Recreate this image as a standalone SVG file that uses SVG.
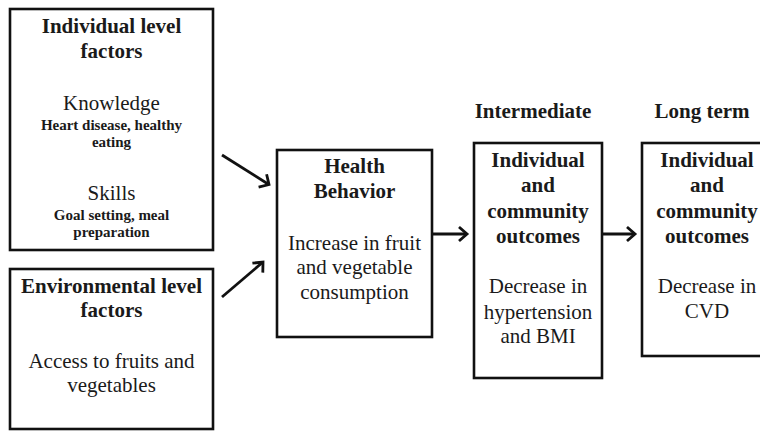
<svg xmlns="http://www.w3.org/2000/svg" width="760" height="431" viewBox="0 0 760 431">
<style>
.box{fill:#fff;stroke:#111;stroke-width:2.6}
.c{stroke:#111;stroke-width:2.8;fill:none}
.ah{stroke:#111;stroke-width:2.8;fill:none;stroke-linejoin:miter}
</style>
<rect width="760" height="431" fill="#fff"/>
<g id="individual" text-anchor="middle" fill="#1a1a1a">
<rect class="box" x="10" y="9" width="203" height="241"/>
<text font-family="'Liberation Serif', serif" font-weight="bold" font-size="21" x="111.5" y="33">Individual level</text>
<text font-family="'Liberation Serif', serif" font-weight="bold" font-size="21" x="111.5" y="58">factors</text>
<text font-family="'Liberation Serif', serif" font-size="21" x="111.5" y="110">Knowledge</text>
<text font-family="'Liberation Serif', serif" font-weight="bold" font-size="15" x="111.5" y="130">Heart disease, healthy</text>
<text font-family="'Liberation Serif', serif" font-weight="bold" font-size="15" x="111.5" y="147">eating</text>
<text font-family="'Liberation Serif', serif" font-size="21" x="111.5" y="200">Skills</text>
<text font-family="'Liberation Serif', serif" font-weight="bold" font-size="15" x="111.5" y="220">Goal setting, meal</text>
<text font-family="'Liberation Serif', serif" font-weight="bold" font-size="15" x="111.5" y="237">preparation</text>
</g>
<g id="environmental" text-anchor="middle" fill="#1a1a1a">
<rect class="box" x="10" y="269" width="203" height="160"/>
<text font-family="'Liberation Serif', serif" font-weight="bold" font-size="21" x="111.5" y="293">Environmental level</text>
<text font-family="'Liberation Serif', serif" font-weight="bold" font-size="21" x="111.5" y="317">factors</text>
<text font-family="'Liberation Serif', serif" font-size="21" x="111.5" y="368">Access to fruits and</text>
<text font-family="'Liberation Serif', serif" font-size="21" x="111.5" y="392">vegetables</text>
</g>
<g id="health-behavior" text-anchor="middle" fill="#1a1a1a">
<rect class="box" x="277" y="150" width="155" height="187"/>
<text font-family="'Liberation Serif', serif" font-weight="bold" font-size="21" x="354.5" y="173">Health</text>
<text font-family="'Liberation Serif', serif" font-weight="bold" font-size="21" x="354.5" y="198">Behavior</text>
<text font-family="'Liberation Serif', serif" font-size="21" x="354.5" y="250">Increase in fruit</text>
<text font-family="'Liberation Serif', serif" font-size="21" x="354.5" y="274">and vegetable</text>
<text font-family="'Liberation Serif', serif" font-size="21" x="354.5" y="299">consumption</text>
</g>
<g id="intermediate" text-anchor="middle" fill="#1a1a1a">
<text font-family="'Liberation Serif', serif" font-weight="bold" font-size="21" x="533" y="118">Intermediate</text>
<rect class="box" x="474" y="143" width="128" height="235"/>
<text font-family="'Liberation Serif', serif" font-weight="bold" font-size="21" x="538" y="167">Individual</text>
<text font-family="'Liberation Serif', serif" font-weight="bold" font-size="21" x="538" y="192">and</text>
<text font-family="'Liberation Serif', serif" font-weight="bold" font-size="21" x="538" y="218">community</text>
<text font-family="'Liberation Serif', serif" font-weight="bold" font-size="21" x="538" y="243">outcomes</text>
<text font-family="'Liberation Serif', serif" font-size="21" x="538" y="293">Decrease in</text>
<text font-family="'Liberation Serif', serif" font-size="21" x="538" y="319">hypertension</text>
<text font-family="'Liberation Serif', serif" font-size="21" x="538" y="343">and BMI</text>
</g>
<g id="long-term" text-anchor="middle" fill="#1a1a1a">
<text font-family="'Liberation Serif', serif" font-weight="bold" font-size="21" x="702" y="118">Long term</text>
<rect class="box" x="642" y="143" width="130" height="213"/>
<text font-family="'Liberation Serif', serif" font-weight="bold" font-size="21" x="707" y="167">Individual</text>
<text font-family="'Liberation Serif', serif" font-weight="bold" font-size="21" x="707" y="192">and</text>
<text font-family="'Liberation Serif', serif" font-weight="bold" font-size="21" x="707" y="218">community</text>
<text font-family="'Liberation Serif', serif" font-weight="bold" font-size="21" x="707" y="243">outcomes</text>
<text font-family="'Liberation Serif', serif" font-size="21" x="707" y="293">Decrease in</text>
<text font-family="'Liberation Serif', serif" font-size="21" x="707" y="318">CVD</text>
</g>
<g id="connectors">
<line class="c" x1="222" y1="155" x2="268" y2="184"/>
<path class="ah" d="M258.6,187.2 L269,184.6 L266.6,174.2"/>
<line class="c" x1="222" y1="297" x2="263" y2="262"/>
<path class="ah" d="M252.4,263.2 L263,262 L262.8,272.6"/>
<line class="c" x1="432" y1="234" x2="467" y2="234"/>
<path class="ah" d="M459,227 L467,234 L459,241"/>
<line class="c" x1="602" y1="234" x2="635" y2="234"/>
<path class="ah" d="M627,227 L635,234 L627,241"/>
</g>
</svg>
